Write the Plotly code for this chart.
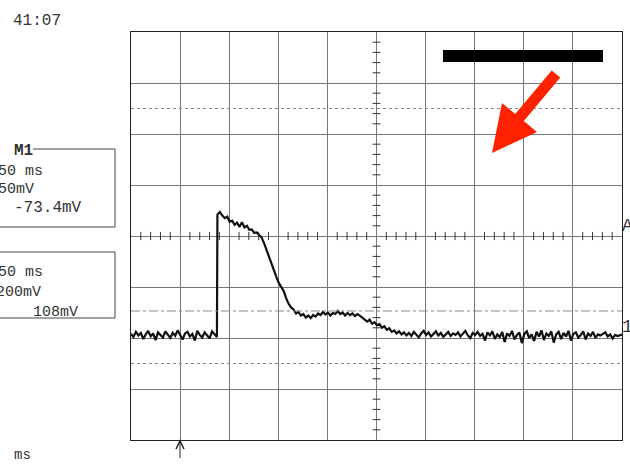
import numpy as np
import plotly.graph_objects as go

# ---- data (time in ms, 50 ms/div; signal in screen divisions) ----
t_base1 = np.arange(0, 88, 2.5)
v_base1 = [-1.92, -1.98, -1.88, -1.95, -1.90, -2.02, -1.93, -1.86, -1.97, -1.91,
           -2.04, -1.89, -1.94, -1.99, -1.87, -1.93, -2.00, -1.90, -1.96, -1.85,
           -1.95, -2.03, -1.91, -1.88, -1.97, -1.92, -2.05, -1.86, -1.94, -1.99,
           -1.89, -1.95, -2.01, -1.87, -1.93, -1.98]

t_pulse = np.arange(88.0, 281, 2.5)
v_pulse = [0.42, 0.47, 0.40, 0.35, 0.38, 0.28, 0.30, 0.22, 0.26, 0.18,
           0.27, 0.17, 0.20, 0.12, 0.13, 0.06, 0.07, 0.02, -0.03, -0.14,
           -0.28, -0.42, -0.55, -0.67, -0.80, -0.92, -1.00, -1.08, -1.22, -1.33,
           -1.40, -1.44, -1.52, -1.49, -1.56, -1.53, -1.60, -1.56, -1.61, -1.55,
           -1.58, -1.52, -1.55, -1.49, -1.54, -1.50, -1.56, -1.51, -1.53, -1.47,
           -1.53, -1.50, -1.56, -1.51, -1.55, -1.52, -1.57, -1.53, -1.56, -1.60,
           -1.63, -1.68, -1.64, -1.72, -1.69, -1.75, -1.73, -1.80, -1.77, -1.84,
           -1.81, -1.88, -1.85, -1.91, -1.87, -1.93, -1.89, -1.95]

t_base2 = np.arange(283.0, 501, 2.5)
v_base2 = [-1.90, -1.96, -1.88, -1.93, -1.99, -1.91, -1.86, -1.94, -1.89, -1.97,
           -1.92, -1.87, -1.95, -1.90, -1.98, -1.93, -1.88, -1.96, -1.91, -1.94,
           -1.89, -1.97, -1.92, -1.86, -1.95, -2.00, -1.90, -1.94, -1.88, -1.96,
           -1.92, -2.05, -1.89, -1.95, -1.87, -2.02, -1.93, -1.98, -1.88, -2.08,
           -1.91, -1.96, -1.86, -2.03, -1.94, -1.89, -2.10, -1.92, -1.87, -2.00,
           -1.93, -2.06, -1.88, -1.97, -1.85, -2.04, -1.91, -1.96, -1.87, -2.09,
           -1.93, -1.88, -2.02, -1.90, -1.97, -1.86, -2.05, -1.92, -1.89, -1.99,
           -1.94, -1.87, -2.03, -1.91, -1.96, -1.88, -2.00, -1.93, -1.95, -1.92,
           -1.89, -1.97, -1.93, -2.01, -1.94, -1.96, -1.95, -1.93]

readout_top = ["50 ms", "50mV", "-73.4mV"]
readout_bottom = ["50 ms", "200mV", "108mV"]
clock_text = "41:07"

t_all = np.concatenate([t_base1, t_pulse, t_base2])
v_all = np.concatenate([v_base1, v_pulse, v_base2])
assert len(t_all) == len(v_all)

# ---- geometry helpers (figure pixels -> paper) ----
L, R, T, B = 131, 622, 32, 440
W, H = 630, 465
def px(x):
    return (x - L) / (R - L)
def py(y):
    return (B - y) / (B - T)

fig = go.Figure()
fig.add_trace(go.Scatter(x=t_all, y=v_all, mode="lines",
                         line=dict(color="#111111", width=2.2),
                         hoverinfo="skip", showlegend=False))

shapes = []
# minor ticks on centre lines
for k in range(0, 51):
    xv = k * 10
    if k % 5 != 0:
        shapes.append(dict(type="line", xref="x", yref="y", x0=xv, x1=xv,
                           y0=-0.08, y1=0.08, line=dict(color="#333", width=1)))
for k in range(-20, 21):
    yv = k * 0.2
    if k % 5 != 0:
        shapes.append(dict(type="line", xref="x", yref="y", x0=246, x1=254,
                           y0=yv, y1=yv, line=dict(color="#333", width=1)))
# cursor lines
shapes.append(dict(type="line", xref="paper", yref="y", x0=0, x1=1, y0=2.5, y1=2.5,
                   line=dict(color="#888", width=1, dash="dot")))
shapes.append(dict(type="line", xref="paper", yref="y", x0=0, x1=1, y0=-2.5, y1=-2.5,
                   line=dict(color="#888", width=1, dash="dot")))
shapes.append(dict(type="line", xref="paper", yref="y", x0=0, x1=1, y0=-1.47, y1=-1.47,
                   line=dict(color="#888", width=1, dash="dashdot")))

# black bar
shapes.append(dict(type="rect", xref="paper", yref="paper",
                   x0=px(443), x1=px(603), y0=py(62), y1=py(50),
                   fillcolor="black", line=dict(width=0)))
# red arrow
arrow_pts = [(551.7, 70.5), (560.3, 77.5), (523.8, 121), (537, 132),
             (492, 153), (502, 103), (515.2, 114)]
path = "M " + " L ".join(f"{px(a):.5f},{py(b):.5f}" for a, b in arrow_pts) + " Z"
shapes.append(dict(type="path", xref="paper", yref="paper", path=path,
                   fillcolor="#ff2200", line=dict(width=0)))

# readout boxes
def hline(x0, x1, y):
    shapes.append(dict(type="line", xref="paper", yref="paper", x0=px(x0), x1=px(x1),
                       y0=py(y), y1=py(y), line=dict(color="#444", width=1)))
def vline(x, y0, y1):
    shapes.append(dict(type="line", xref="paper", yref="paper", x0=px(x), x1=px(x),
                       y0=py(y0), y1=py(y1), line=dict(color="#444", width=1)))
hline(33, 115, 149); vline(115, 149, 227); hline(0, 115, 227)
hline(0, 115, 252); vline(115, 252, 318); hline(0, 115, 318)

# trigger arrow at bottom
shapes.append(dict(type="line", xref="paper", yref="paper", x0=px(180), x1=px(180),
                   y0=py(441), y1=py(458), line=dict(color="#222", width=1)))
shapes.append(dict(type="path", xref="paper", yref="paper",
                   path=f"M {px(176):.5f},{py(449):.5f} L {px(180):.5f},{py(441):.5f} L {px(184):.5f},{py(449):.5f}",
                   line=dict(color="#222", width=1.5)))

font_mono = "Liberation Mono, DejaVu Sans Mono, monospace"
ann = []
def text(s, x, y, size=15, bold=False):
    ann.append(dict(text=f"<b>{s}</b>" if bold else s, xref="paper", yref="paper",
                    x=px(x), y=py(y), xanchor="left", yanchor="middle",
                    showarrow=False, borderpad=0,
                    font=dict(family=font_mono, size=size, color="#333")))
text(clock_text, 12, 21, size=16)
text("M1", 13, 151, size=16, bold=True)
text(readout_top[0], -3, 171)
text(readout_top[1], -3, 189)
text(readout_top[2], 13, 208, size=16)
text(readout_bottom[0], -3, 272)
text(readout_bottom[1], -5, 292)
text(readout_bottom[2], 32, 312)
text("ms", 13, 455, size=14)
text("A", 621, 226, size=18)
text("1", 621, 327, size=18)

fig.update_layout(
    width=W, height=H,
    margin=dict(l=L, r=W - R, t=T, b=H - B, pad=0),
    paper_bgcolor="white", plot_bgcolor="white",
    shapes=shapes, annotations=ann, showlegend=False,
    xaxis=dict(range=[0, 500], dtick=50, tick0=0, showgrid=True, gridcolor="#777",
               gridwidth=1, showticklabels=False, ticks="", zeroline=False,
               showline=True, linecolor="#222", linewidth=1, mirror=True, fixedrange=True),
    yaxis=dict(range=[-4, 4], dtick=1, tick0=0, showgrid=True, gridcolor="#777",
               gridwidth=1, showticklabels=False, ticks="", zeroline=False,
               showline=True, linecolor="#222", linewidth=1, mirror=True, fixedrange=True),
)
fig.write_html("out.html", config={"displayModeBar": False},
               post_script="document.body.style.margin='0';document.body.style.overflow='hidden';")
